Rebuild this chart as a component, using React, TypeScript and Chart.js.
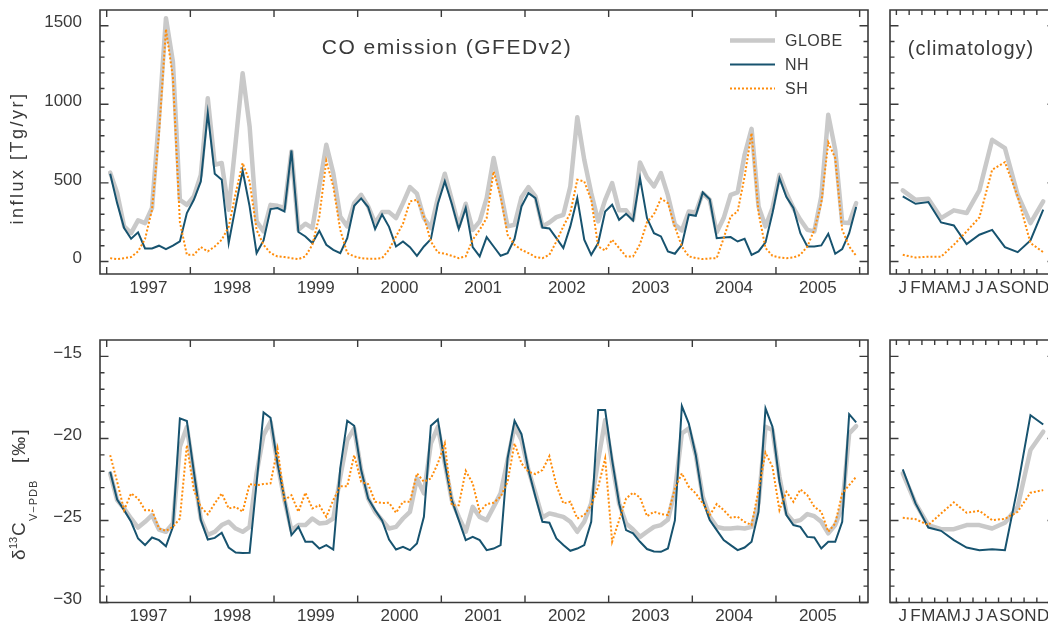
import React, { useEffect, useRef } from 'react';
import { Chart, registerables } from 'chart.js';

Chart.register(...registerables);

// ---------------- data ----------------
const YEARS = [1997, 1998, 1999, 2000, 2001, 2002, 2003, 2004, 2005];
const MONTH_LABELS = ['J', 'F', 'M', 'A', 'M', 'J', 'J', 'A', 'S', 'O', 'N', 'D'];
const CLIM_MONTHS = [1, 2, 3, 4, 5, 6, 7, 8, 9, 10, 11, 12];
const EMIS_TICKS = [0, 500, 1000, 1500];
const D13_TICKS = [-15, -20, -25, -30];

// CO emission [Tg/yr], monthly 1997-2005
const emisGlobe = [
  565, 435, 223, 180, 261, 244, 340, 910, 1548, 1270, 392, 360,
  413, 551, 1039, 615, 626, 329, 760, 1198, 859, 255, 191, 360,
  354, 340, 700, 201, 240, 212, 477, 742, 562, 286, 223, 371,
  424, 350, 244, 314, 314, 276, 371, 473, 431, 276, 212, 403,
  558, 392, 223, 367, 201, 255, 403, 658, 445, 223, 233, 409,
  473, 414, 223, 248, 282, 297, 477, 918, 647, 435, 255, 392,
  498, 325, 325, 265, 630, 535, 477, 562, 420, 235, 197, 318,
  312, 435, 392, 185, 276, 424, 439, 679, 844, 350, 223, 340,
  551, 435, 340, 265, 201, 191, 414, 933, 710, 248, 244, 371,
];
const emisNH = [
  558, 371, 212, 144, 185, 83, 83, 100, 78, 100, 127, 308,
  392, 509, 944, 558, 520, 117, 350, 579, 350, 53, 134, 333,
  340, 318, 706, 187, 159, 117, 195, 106, 74, 53, 148, 354,
  401, 346, 206, 299, 220, 95, 127, 91, 36, 95, 142, 367,
  509, 367, 206, 340, 91, 32, 155, 95, 36, 53, 144, 350,
  435, 403, 216, 210, 148, 85, 223, 403, 138, 42, 117, 318,
  361, 265, 303, 261, 530, 276, 180, 159, 64, 49, 106, 297,
  290, 439, 396, 148, 153, 155, 127, 144, 42, 64, 121, 308,
  530, 409, 340, 180, 95, 95, 102, 176, 49, 78, 180, 346,
];
const emisSH = [
  21, 15, 21, 28, 64, 142, 329, 810, 1478, 1170, 250, 42,
  42, 91, 64, 95, 138, 220, 435, 626, 509, 201, 106, 53,
  32, 28, 21, 15, 32, 106, 286, 640, 477, 201, 53, 32,
  21, 17, 17, 21, 75, 159, 240, 382, 392, 286, 127, 57,
  49, 36, 21, 32, 138, 201, 276, 573, 414, 170, 106, 74,
  53, 28, 21, 42, 127, 223, 308, 520, 509, 392, 95, 70,
  138, 85, 32, 32, 110, 250, 300, 400, 371, 220, 95, 32,
  21, 15, 19, 21, 148, 286, 318, 540, 817, 308, 85, 36,
  25, 21, 25, 42, 95, 201, 371, 757, 658, 201, 95, 36,
];

// delta13C [permil], monthly 1997-2005
const d13Globe = [
  -22.13, -23.76, -24.27, -24.88, -25.43, -25.08, -24.67, -25.55, -25.69, -25.18, -20.5, -19.3,
  -22.13, -24.88, -25.89, -25.69, -25.28, -25.08, -25.49, -25.69, -25.39, -22.13, -19.8, -18.98,
  -21.52, -23.76, -25.59, -25.28, -25.28, -24.88, -25.18, -25.14, -24.88, -22.34, -20.1, -19.39,
  -21.93, -23.66, -24.47, -24.98, -25.49, -25.39, -24.88, -24.47, -22.44, -23.35, -20.3, -19.29,
  -21.52, -23.76, -24.78, -25.69, -24.17, -24.78, -24.98, -24.17, -23.35, -21.32, -19.29, -20.1,
  -21.93, -23.35, -24.82, -24.57, -24.67, -24.78, -25.08, -25.69, -25.08, -23.96, -21.32, -18.88,
  -21.52, -23.96, -25.18, -25.55, -26.0, -25.69, -25.39, -25.28, -24.95, -23.2, -19.7, -19.39,
  -21.02, -23.56, -24.78, -25.39, -25.49, -25.49, -25.45, -25.49, -25.39, -23.96, -19.29, -19.49,
  -22.34, -24.57, -25.08, -24.98, -24.61, -24.74, -25.08, -25.79, -25.28, -24.17, -19.7, -19.25,
];
const d13NH = [
  -22.03, -23.72, -24.37, -25.08, -26.1, -26.5, -26.04, -26.2, -26.57, -25.39, -18.78, -18.94,
  -22.03, -24.98, -26.16, -26.06, -25.75, -26.65, -26.95, -26.99, -26.97, -22.7, -18.41, -18.74,
  -21.52, -23.66, -25.89, -25.39, -26.3, -26.3, -26.71, -26.5, -26.77, -21.83, -18.92, -19.23,
  -21.93, -23.66, -24.37, -25.0, -26.16, -26.77, -26.61, -26.81, -26.4, -24.78, -19.23, -18.84,
  -21.52, -23.76, -24.98, -26.2, -26.0, -26.2, -26.81, -26.71, -26.5, -21.22, -18.92, -19.74,
  -21.93, -23.56, -25.08, -25.14, -26.1, -26.5, -26.85, -26.71, -26.5, -25.08, -18.27, -18.27,
  -21.32, -23.96, -25.59, -25.79, -26.3, -26.74, -26.89, -26.91, -26.71, -25.0, -18.03, -19.09,
  -21.02, -23.76, -24.98, -25.59, -26.2, -26.5, -26.81, -26.65, -26.3, -24.47, -18.17, -19.29,
  -22.64, -24.67, -25.28, -25.39, -26.0, -26.04, -26.71, -26.3, -26.3, -25.08, -18.52, -19.02,
];
const d13SH = [
  -21.02, -22.64, -24.37, -23.35, -23.66, -24.37, -24.37, -25.49, -25.63, -25.39, -24.88, -20.41,
  -23.15, -24.17, -24.63, -23.96, -23.35, -24.27, -24.17, -24.47, -22.78, -22.85, -22.78, -22.74,
  -20.61, -23.76, -23.46, -24.47, -23.31, -24.27, -24.07, -24.78, -23.76, -22.91, -22.91, -21.02,
  -22.64, -22.78, -23.86, -23.94, -23.92, -24.53, -23.86, -23.86, -22.13, -22.64, -22.44, -21.52,
  -20.3, -24.07, -24.07, -21.97, -22.74, -24.47, -24.0, -23.92, -23.56, -22.64, -20.3, -21.52,
  -22.03, -22.17, -21.93, -21.08, -22.85, -23.96, -23.86, -24.88, -24.67, -24.07, -22.95, -21.22,
  -26.3, -24.98, -23.66, -23.31, -23.6, -24.74, -24.47, -24.61, -24.67, -23.05, -22.13, -22.95,
  -23.35, -23.96, -24.67, -24.0, -24.37, -24.82, -24.78, -25.08, -25.28, -23.15, -20.87, -21.73,
  -24.37, -23.25, -23.86, -23.11, -23.46, -24.17, -24.47, -25.69, -25.18, -23.35, -22.85, -22.34,
];

// climatology (mean seasonal cycle)
const climEmisGlobe = [452, 392, 399, 276, 325, 308, 452, 774, 721, 424, 244, 382];
const climEmisNH = [414, 367, 378, 248, 229, 110, 170, 201, 91, 59, 134, 329];
const climEmisSH = [42, 25, 30, 30, 106, 191, 280, 583, 632, 414, 117, 59];
const climD13Globe = [-22.13, -23.96, -25.28, -25.53, -25.53, -25.28, -25.28, -25.49, -25.14, -24.17, -20.71, -19.59];
const climD13NH = [-21.89, -23.96, -25.43, -25.63, -26.2, -26.65, -26.81, -26.75, -26.81, -22.95, -18.58, -19.15];
const climD13SH = [-24.84, -24.92, -25.28, -24.57, -23.9, -24.53, -24.41, -24.98, -24.9, -24.47, -23.31, -23.15];

// ---------------- style ----------------
const FONT = '"Liberation Sans", Arial, sans-serif';
const TEXT = '#3a3a3a';
const FRAME = '#3a3a3a';
const GRAY = '#c9c9c9';
const TEAL = '#17536f';
const ORANGE = '#ff8c0a';

const monthX = emisGlobe.map((_, i) => 1997 + (i + 0.5) / 12);

function makeSeries(xs: number[], g: number[], n: number[], s: number[]) {
  const pts = (arr: number[]) => arr.map((y, i) => ({ x: xs[i], y }));
  return [
    { label: 'GLOBE', data: pts(g), borderColor: GRAY, borderWidth: 4.5, pointRadius: 0, order: 3, borderJoinStyle: 'round', borderCapStyle: 'round', fill: false },
    { label: 'NH', data: pts(n), borderColor: TEAL, borderWidth: 2, pointRadius: 0, order: 2, fill: false },
    { label: 'SH', data: pts(s), borderColor: ORANGE, borderWidth: 2, borderDash: [2, 2], pointRadius: 0, order: 1, fill: false },
  ];
}

function framePlugin(o: { xMarks: number[]; xLen: number; yMinor: number[]; yMajor: number[] }) {
  return {
    id: 'frame',
    afterDraw(chart: any) {
      const { ctx, chartArea: a, scales } = chart;
      ctx.save();
      ctx.strokeStyle = FRAME;
      ctx.lineWidth = 1.6;
      ctx.beginPath();
      ctx.rect(a.left, a.top, a.right - a.left, a.bottom - a.top);
      ctx.stroke();
      ctx.lineWidth = 1.4;
      ctx.beginPath();
      for (const v of o.xMarks) {
        const px = scales.x.getPixelForValue(v);
        ctx.moveTo(px, a.bottom);
        ctx.lineTo(px, a.bottom - o.xLen);
        ctx.moveTo(px, a.top);
        ctx.lineTo(px, a.top + o.xLen);
      }
      const yt = (v: number, len: number) => {
        const py = scales.y.getPixelForValue(v);
        ctx.moveTo(a.left, py);
        ctx.lineTo(a.left + len, py);
        ctx.moveTo(a.right, py);
        ctx.lineTo(a.right - len, py);
      };
      for (const v of o.yMinor) yt(v, 4.5);
      for (const v of o.yMajor) yt(v, 8.5);
      ctx.stroke();
      ctx.restore();
    },
  };
}

function textPlugin(draw: (ctx: CanvasRenderingContext2D) => void) {
  return {
    id: 'annot',
    afterDraw(chart: any) {
      const ctx = chart.ctx as CanvasRenderingContext2D;
      ctx.save();
      draw(ctx);
      ctx.restore();
    },
  };
}

function range(a: number, b: number, step: number) {
  const out: number[] = [];
  for (let v = a; v <= b + 1e-9; v += step) out.push(Math.round(v * 100) / 100);
  return out;
}

type PanelCfg = {
  xMin: number; xMax: number; yMin: number; yMax: number;
  xLabelAt: number[]; xLabel: (v: number) => string;
  yLabelAt: number[] | null;
  yWidth: number; xHeight: number; pad: any;
  datasets: any[]; plugins: any[];
};

function makeConfig(p: PanelCfg): any {
  const tickFont = { family: FONT, size: 17 };
  return {
    type: 'line',
    data: { datasets: p.datasets },
    plugins: p.plugins,
    options: {
      responsive: false,
      animation: false,
      devicePixelRatio: 1,
      layout: { padding: p.pad },
      plugins: { legend: { display: false }, tooltip: { enabled: false }, title: { display: false } },
      scales: {
        x: {
          type: 'linear', min: p.xMin, max: p.xMax,
          afterBuildTicks: (s: any) => { s.ticks = p.xLabelAt.map((v) => ({ value: v })); },
          afterFit: (s: any) => {
            s.height = p.xHeight;
            s.paddingLeft = 0; s.paddingRight = 0; s.paddingTop = 0; s.paddingBottom = 0;
          },
          ticks: { autoSkip: false, maxRotation: 0, minRotation: 0, padding: 4, color: TEXT, font: tickFont, callback: (v: any) => p.xLabel(Number(v)) },
          grid: { display: false, drawTicks: false },
          border: { display: false },
        },
        y: {
          type: 'linear', min: p.yMin, max: p.yMax,
          afterBuildTicks: (s: any) => { s.ticks = (p.yLabelAt || []).map((v) => ({ value: v })); },
          afterFit: (s: any) => {
            s.width = p.yWidth;
            s.paddingLeft = 0; s.paddingRight = 0; s.paddingTop = 0; s.paddingBottom = 0;
          },
          ticks: { display: !!p.yLabelAt, padding: 18, labelOffset: -3, color: TEXT, font: tickFont, callback: (v: any) => (Number(v) < 0 ? '\u2212' + Math.abs(Number(v)) : String(v)) },
          grid: { display: false, drawTicks: false },
          border: { display: false },
        },
      },
    },
  };
}

const setLS = (ctx: any, v: string) => { ctx.letterSpacing = v; };

export default function App() {
  const r1 = useRef<HTMLCanvasElement>(null);
  const r2 = useRef<HTMLCanvasElement>(null);
  const r3 = useRef<HTMLCanvasElement>(null);
  const r4 = useRef<HTMLCanvasElement>(null);

  useEffect(() => {
    const yearMarks = [...YEARS, YEARS[YEARS.length - 1] + 1];
    const yearLabelAt = YEARS.map((y) => y + 0.5);
    const monthMarks = range(0.5, 12.5, 1);

    const tl = makeConfig({
      xMin: 1996.92, xMax: 2006.1, yMin: -80, yMax: 1600,
      xLabelAt: yearLabelAt, xLabel: (v) => String(Math.floor(v)),
      yLabelAt: EMIS_TICKS, yWidth: 100, xHeight: 26,
      pad: { top: 10, right: 12, left: 0, bottom: 0 },
      datasets: makeSeries(monthX, emisGlobe, emisNH, emisSH),
      plugins: [
        framePlugin({ xMarks: yearMarks, xLen: 7, yMinor: range(0, 1500, 100), yMajor: EMIS_TICKS }),
        textPlugin((ctx) => {
          ctx.fillStyle = TEXT;
          ctx.textBaseline = 'middle';
          // title
          ctx.font = `21px ${FONT}`;
          setLS(ctx, '1.5px');
          ctx.textAlign = 'center';
          ctx.fillText('CO emission (GFEDv2)', 447, 48);
          // legend
          ctx.font = `16px ${FONT}`;
          setLS(ctx, '0.5px');
          ctx.textAlign = 'left';
          const rows = [
            { t: 'GLOBE', c: GRAY, w: 4.5, d: [] as number[] },
            { t: 'NH', c: TEAL, w: 2, d: [] as number[] },
            { t: 'SH', c: ORANGE, w: 2, d: [2, 2] },
          ];
          rows.forEach((r, k) => {
            const y = 40.5 + k * 24;
            ctx.save();
            ctx.strokeStyle = r.c;
            ctx.lineWidth = r.w;
            ctx.setLineDash(r.d);
            ctx.beginPath();
            ctx.moveTo(730, y);
            ctx.lineTo(775, y);
            ctx.stroke();
            ctx.restore();
            ctx.fillText(r.t, 785, y + 1);
          });
          // y title
          ctx.save();
          ctx.translate(18, 158);
          ctx.rotate(-Math.PI / 2);
          ctx.font = `18px ${FONT}`;
          setLS(ctx, '2.5px');
          ctx.textAlign = 'center';
          ctx.fillText('influx [Tg/yr]', 0, 0);
          ctx.restore();
        }),
      ],
    });

    const tr = makeConfig({
      xMin: 0, xMax: 13, yMin: -80, yMax: 1600,
      xLabelAt: CLIM_MONTHS, xLabel: (v) => MONTH_LABELS[Math.round(v) - 1] || '',
      yLabelAt: null, yWidth: 10, xHeight: 26,
      pad: { top: 10, right: 0, left: 0, bottom: 0 },
      datasets: makeSeries(CLIM_MONTHS, climEmisGlobe, climEmisNH, climEmisSH),
      plugins: [
        framePlugin({ xMarks: monthMarks, xLen: 5, yMinor: range(0, 1500, 100), yMajor: EMIS_TICKS }),
        textPlugin((ctx) => {
          ctx.fillStyle = TEXT;
          ctx.textBaseline = 'middle';
          ctx.textAlign = 'center';
          ctx.font = `20px ${FONT}`;
          setLS(ctx, '1px');
          ctx.fillText('(climatology)', 91, 49);
        }),
      ],
    });

    const bl = makeConfig({
      xMin: 1996.92, xMax: 2006.1, yMin: -30, yMax: -14,
      xLabelAt: yearLabelAt, xLabel: (v) => String(Math.floor(v)),
      yLabelAt: D13_TICKS, yWidth: 100, xHeight: 24.5,
      pad: { top: 12, right: 12, left: 0, bottom: 0 },
      datasets: makeSeries(monthX, d13Globe, d13NH, d13SH),
      plugins: [
        framePlugin({ xMarks: yearMarks, xLen: 7, yMinor: range(-30, -15, 1), yMajor: D13_TICKS }),
        textPlugin((ctx) => {
          ctx.fillStyle = TEXT;
          ctx.textBaseline = 'middle';
          ctx.textAlign = 'left';
          ctx.translate(20, 560 - 328);
          ctx.rotate(-Math.PI / 2);
          ctx.font = `19px ${FONT}`;
          setLS(ctx, '0px');
          ctx.fillText('\u03b4', 0, 0);
          ctx.font = `11px ${FONT}`;
          ctx.fillText('13', 11, -6);
          ctx.font = `19px ${FONT}`;
          ctx.fillText('C', 24, 0);
          ctx.font = `11px ${FONT}`;
          setLS(ctx, '1px');
          ctx.fillText('V\u2212PDB', 39, 14);
          ctx.font = `19px ${FONT}`;
          setLS(ctx, '2px');
          ctx.fillText('[\u2030]', 97, 0);
        }),
      ],
    });

    const br = makeConfig({
      xMin: 0, xMax: 13, yMin: -30, yMax: -14,
      xLabelAt: CLIM_MONTHS, xLabel: (v) => MONTH_LABELS[Math.round(v) - 1] || '',
      yLabelAt: null, yWidth: 10, xHeight: 24.5,
      pad: { top: 12, right: 0, left: 0, bottom: 0 },
      datasets: makeSeries(CLIM_MONTHS, climD13Globe, climD13NH, climD13SH),
      plugins: [
        framePlugin({ xMarks: monthMarks, xLen: 5, yMinor: range(-30, -15, 1), yMajor: D13_TICKS }),
      ],
    });

    const charts = [
      new Chart(r1.current as HTMLCanvasElement, tl),
      new Chart(r2.current as HTMLCanvasElement, tr),
      new Chart(r3.current as HTMLCanvasElement, bl),
      new Chart(r4.current as HTMLCanvasElement, br),
    ];
    return () => charts.forEach((c) => c.destroy());
  }, []);

  const abs = (l: number, t: number, w: number, h: number): React.CSSProperties => ({ position: 'absolute', left: l, top: t, width: w, height: h });

  return (
    <div style={{ position: 'absolute', left: 0, top: 0, width: 1048, height: 627, overflow: 'hidden', background: '#fff' }}>
      <canvas ref={r1} width={880} height={300} style={abs(0, 0, 880, 300)} />
      <canvas ref={r2} width={176} height={300} style={abs(880, 0, 176, 300)} />
      <canvas ref={r3} width={880} height={299} style={abs(0, 328, 880, 299)} />
      <canvas ref={r4} width={176} height={299} style={abs(880, 328, 176, 299)} />
    </div>
  );
}
